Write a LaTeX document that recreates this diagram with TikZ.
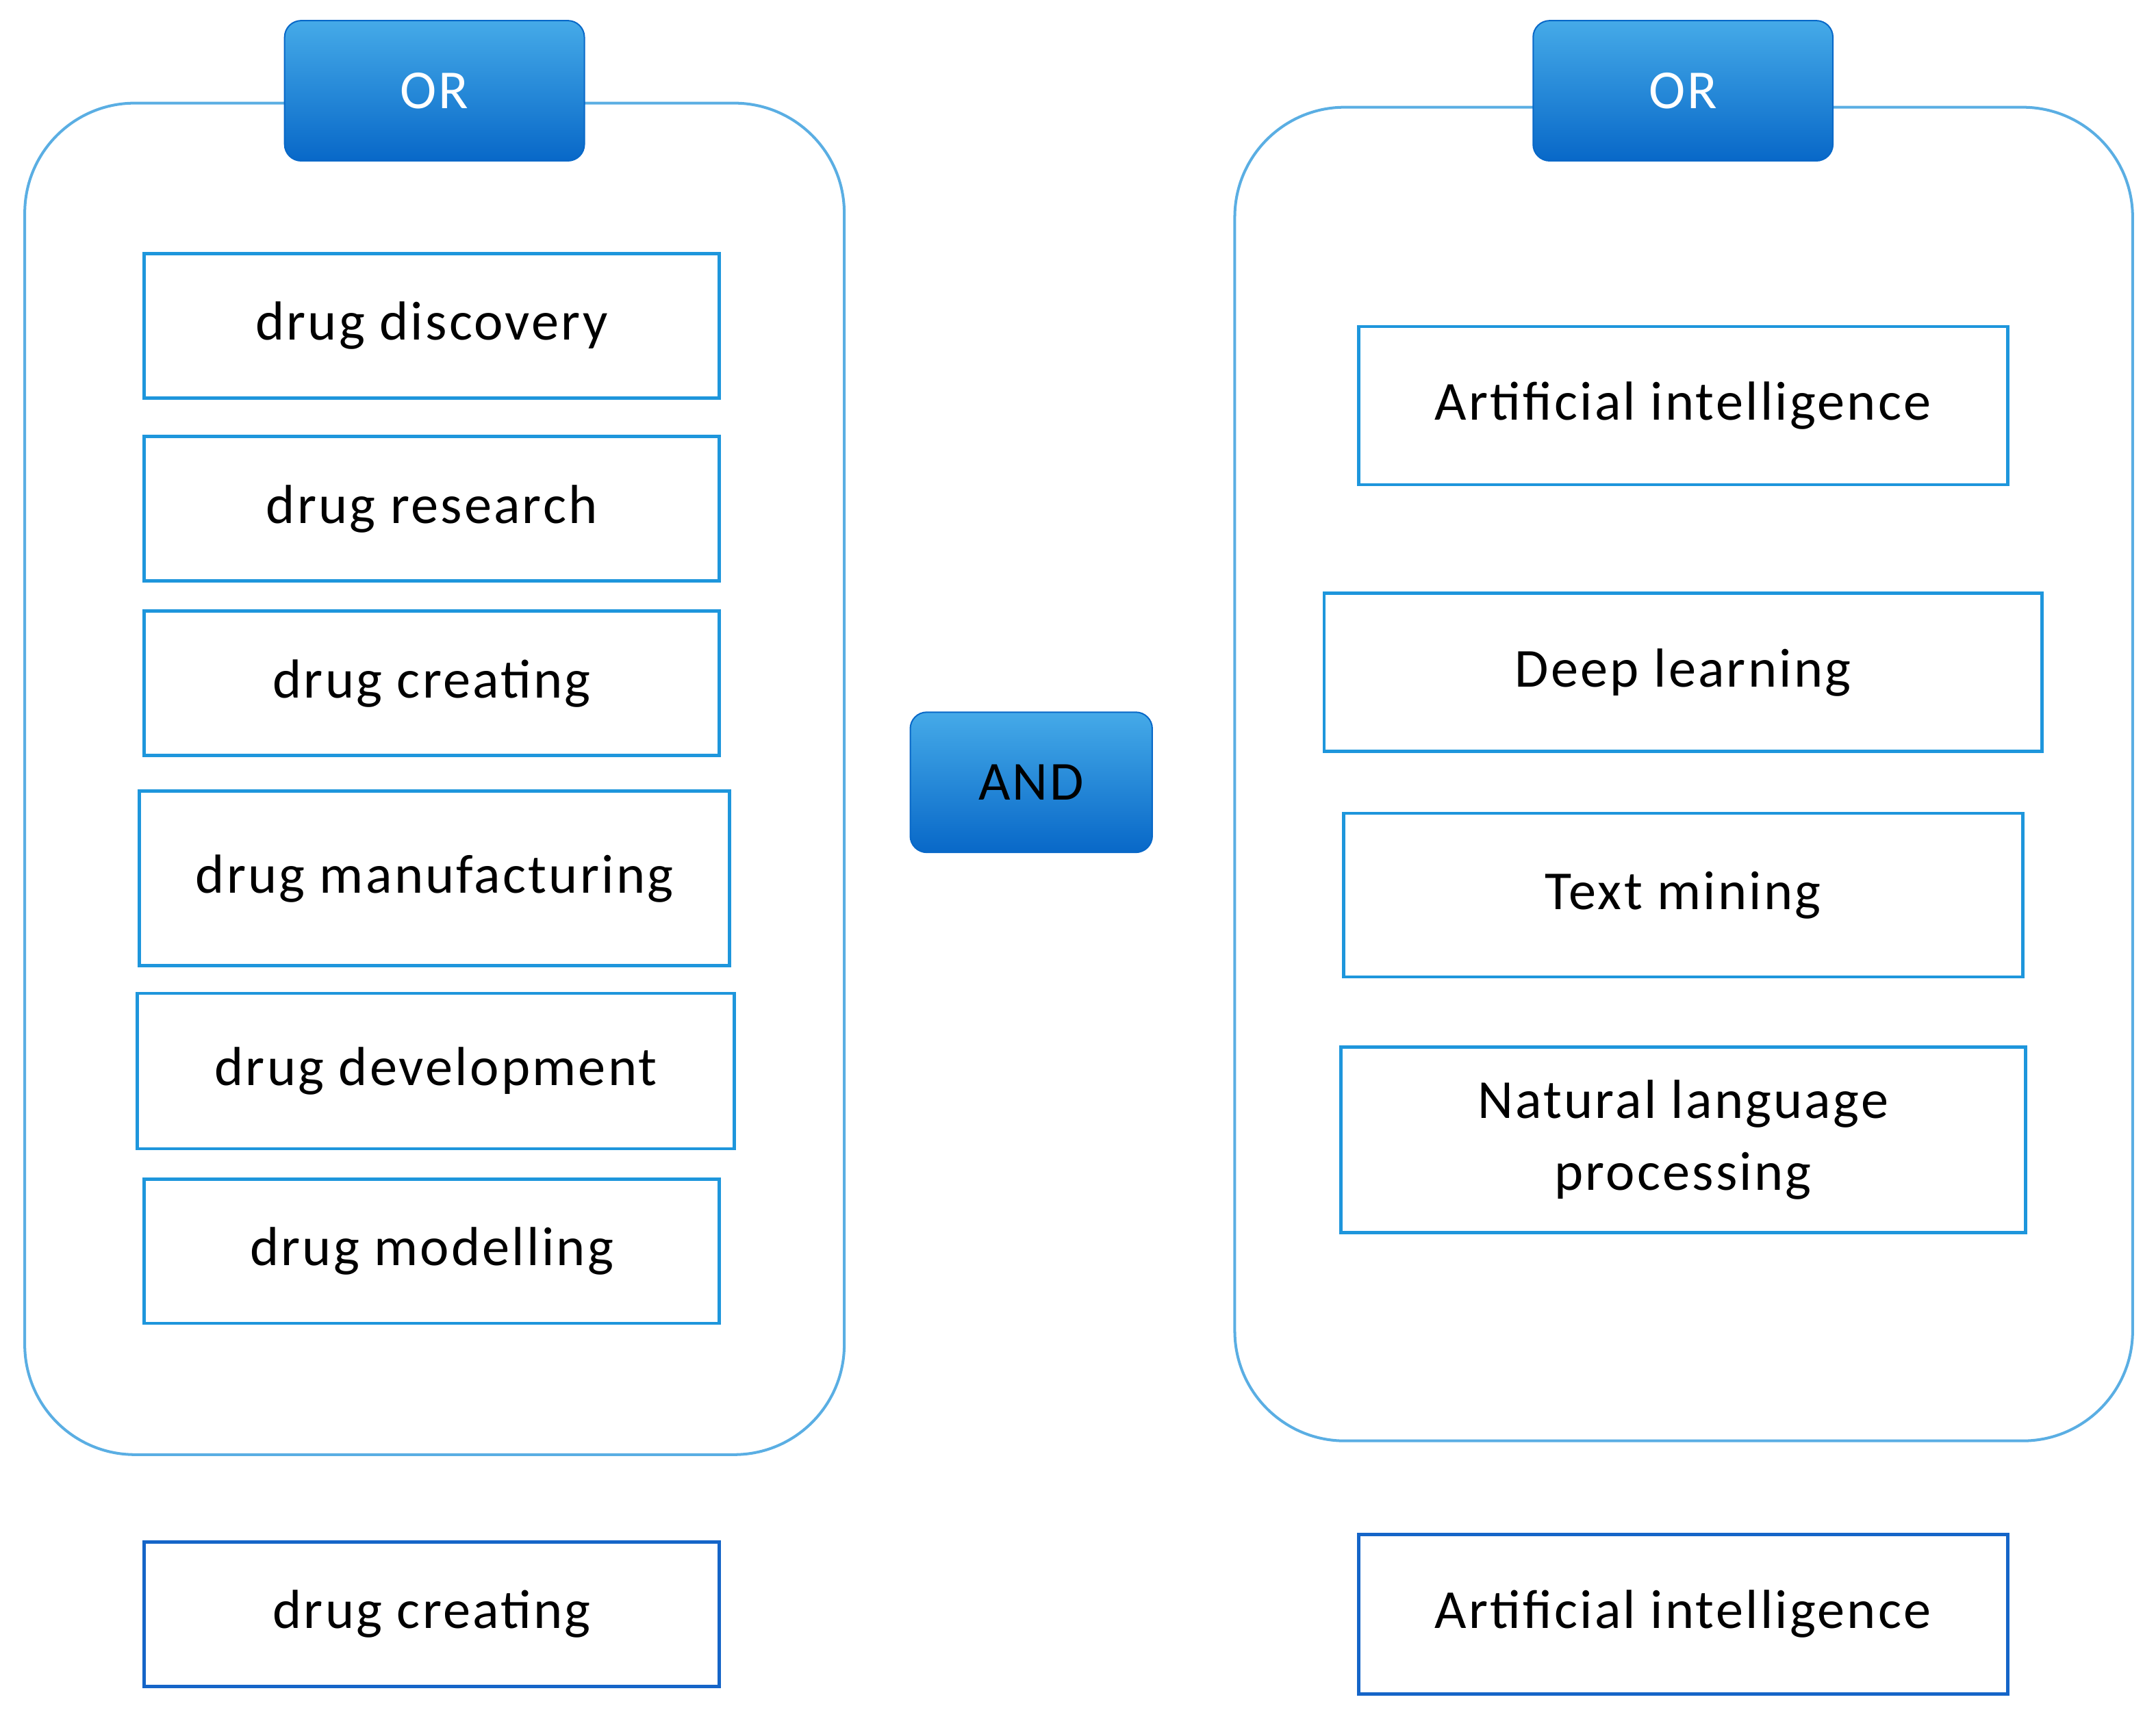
\documentclass[tikz,border=0pt]{standalone}
\usepackage{fontspec}
\setmainfont{Carlito}
\definecolor{frm}{HTML}{5AAEE3}
\definecolor{brd}{HTML}{1E96DC}
\definecolor{dbrd}{HTML}{1565C8}
\definecolor{tabtop}{HTML}{45AAE8}
\definecolor{tabbot}{HTML}{0868C8}
\begin{document}
\begin{tikzpicture}[x=1pt,y=-1pt,
 frame/.style={draw=frm, line width=2pt, rounded corners=80pt},
 term/.style={draw=brd, line width=2.4pt, inner sep=0pt, align=center, font=\fontsize{40}{52}\selectfont\addfontfeature{LetterSpace=4}},
 fin/.style={term, draw=dbrd},
 tab/.style={rounded corners=12pt, top color=tabtop, bottom color=tabbot, draw=tabbot, line width=1pt, inner sep=0pt, font=\fontsize{40}{44}\selectfont\addfontfeature{LetterSpace=4}}]
\useasboundingbox (0,0) rectangle (1568,1250);
\draw[frame] (18,75) rectangle (614,1058);
\draw[frame] (898,78) rectangle (1551,1048);
\node[tab,text=white,minimum width=218pt,minimum height=102pt] (or1) at (316,66) {OR};
\node[tab,text=white,minimum width=218pt,minimum height=102pt] (or2) at (1224,66) {OR};
\node[tab,text=black,minimum width=176pt,minimum height=102pt] (and) at (750,569) {AND};
\node[term,minimum width=418pt,minimum height=105pt] (l1) at (314,237) {drug discovery};
\node[term,minimum width=418pt,minimum height=105pt] (l2) at (314,370) {drug research};
\node[term,minimum width=418pt,minimum height=105pt] (l3) at (314,497) {drug creating};
\node[term,minimum width=429pt,minimum height=127pt] (l4) at (316,639) {drug manufacturing};
\node[term,minimum width=434pt,minimum height=113pt] (l5) at (317,779) {drug development};
\node[term,minimum width=418pt,minimum height=105pt] (l6) at (314,910) {drug modelling};
\node[fin,minimum width=418pt,minimum height=105pt] (l7) at (314,1174) {drug creating};
\node[term,minimum width=472pt,minimum height=115pt] (r1) at (1224,295) {Artificial intelligence};
\node[term,minimum width=522pt,minimum height=115pt] (r2) at (1224,489) {Deep learning};
\node[term,minimum width=494pt,minimum height=119pt] (r3) at (1224,651) {Text mining};
\node[term,minimum width=498pt,minimum height=135pt] (r4) at (1224,829) {Natural language\\processing};
\node[fin,minimum width=472pt,minimum height=116pt] (r5) at (1224,1174) {Artificial intelligence};
\end{tikzpicture}
\end{document}
